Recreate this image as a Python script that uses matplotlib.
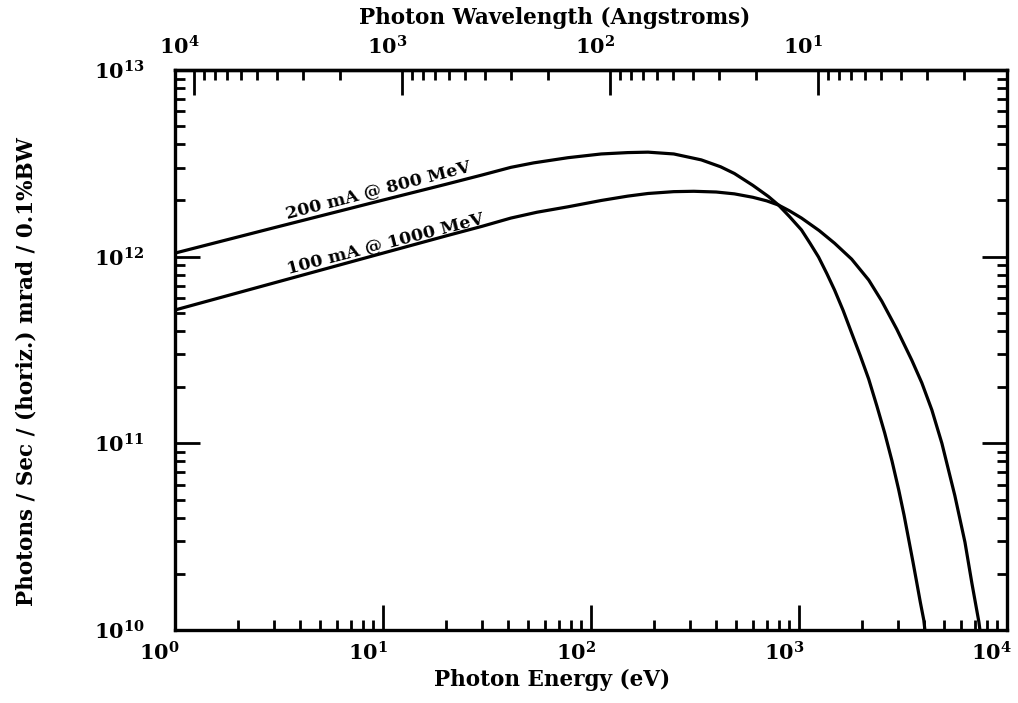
import numpy as np
import matplotlib
matplotlib.use("Agg")
import matplotlib.pyplot as plt
import matplotlib.transforms as mtransforms
from matplotlib.ticker import LogLocator, FixedLocator, FuncFormatter, NullFormatter

# ---- data ----
energy_200mA = [1, 3, 10, 20, 30, 41.2, 53, 77.5, 112, 150, 188, 250, 339, 420,
                489, 600, 713, 797, 900, 1028, 1130, 1242, 1360, 1483, 1630,
                1791, 1970, 2163, 2370, 2583, 2800, 3017, 3200, 3373, 3530,
                3684, 3830, 3981, 4030]
flux_200mA = [1.045e12, 1.43e12, 2.01e12, 2.44e12, 2.74e12, 3.01e12, 3.18e12,
              3.39e12, 3.55e12, 3.61e12, 3.63e12, 3.55e12, 3.30e12, 3.03e12,
              2.79e12, 2.41e12, 2.10e12, 1.89e12, 1.64e12, 1.39e12, 1.18e12,
              9.95e11, 8.13e11, 6.62e11, 5.15e11, 3.90e11, 2.95e11, 2.21e11,
              1.58e11, 1.135e11, 8.04e10, 5.62e10, 4.12e10, 3.03e10, 2.32e10,
              1.79e10, 1.41e10, 1.13e10, 1.0e10]

energy_100mA = [1, 3, 10, 20, 30, 41.2, 55, 77.5, 112, 150, 188, 250, 312, 400,
                489, 600, 700, 797, 900, 1028, 1250, 1483, 1791, 2163, 2500,
                2951, 3485, 3894, 4352, 4864, 5613, 6280, 6780, 7330, 7410]
flux_100mA = [5.18e11, 7.24e11, 1.045e12, 1.29e12, 1.455e12, 1.61e12, 1.73e12,
              1.85e12, 2.00e12, 2.11e12, 2.18e12, 2.23e12, 2.24e12, 2.22e12,
              2.17e12, 2.08e12, 1.99e12, 1.89e12, 1.76e12, 1.61e12, 1.38e12,
              1.18e12, 9.70e11, 7.50e11, 5.78e11, 4.09e11, 2.79e11, 2.11e11,
              1.51e11, 1.0e11, 5.25e10, 2.95e10, 1.78e10, 1.10e10, 1.0e10]

energy_ticks = [1, 10, 100, 1000, 10000]
flux_ticks = [1e10, 1e11, 1e12, 1e13]
wavelength_ticks = [10, 100, 1000, 10000]

curve_labels = ["200 mA @ 800 MeV", "100 mA @ 1000 MeV"]
xlabel = "Photon Energy (eV)"
toplabel = "Photon Wavelength (Angstroms)"
ylabel = "Photons / Sec / (horiz.) mrad / 0.1%BW"
HC = 12398.0  # eV * Angstrom

plt.rcParams['font.family'] = ['DejaVu Serif']
plt.rcParams['font.weight'] = 'bold'
plt.rcParams['mathtext.fontset'] = 'dejavuserif'

W, H = 1018, 703
fig = plt.figure(figsize=(W / 100, H / 100), dpi=100)
L, R, T, B = 175, 1007, 70, 630
ax = fig.add_axes([L / W, 1 - B / H, (R - L) / W, (B - T) / H])

lw = 2.3
for e, f in [(energy_200mA, flux_200mA), (energy_100mA, flux_100mA)]:
    ax.plot(e, f, color='black', lw=lw, solid_joinstyle='round',
            solid_capstyle='butt')
ax.set_xscale('log')
ax.set_yscale('log')
ax.set_xlim(1, 1e4)
ax.set_ylim(1e10, 1e13)

for s in ax.spines.values():
    s.set_linewidth(2.4)

fmt = FuncFormatter(lambda v, p: r'$\mathbf{10^{%d}}$' % round(np.log10(v)))
ax.xaxis.set_major_locator(FixedLocator(energy_ticks))
ax.yaxis.set_major_locator(FixedLocator(flux_ticks))
for axis in (ax.xaxis, ax.yaxis):
    axis.set_minor_locator(LogLocator(base=10, subs=np.arange(2, 10), numticks=20))
    axis.set_major_formatter(fmt)
    axis.set_minor_formatter(NullFormatter())
ax.tick_params(which='both', direction='in', top=False, bottom=True,
               left=True, right=True, width=2.0)
ax.tick_params(which='major', length=18)
ax.tick_params(which='minor', length=7)
ax.tick_params(axis='x', which='major', labelsize=15, pad=8)
ax.tick_params(axis='y', which='major', labelsize=15, pad=22)

sec = ax.secondary_xaxis('top', functions=(lambda e: HC / e, lambda l: HC / l))
sec.xaxis.set_major_locator(FixedLocator(wavelength_ticks))
sec.xaxis.set_minor_locator(LogLocator(base=10, subs=np.arange(2, 10), numticks=20))
sec.xaxis.set_major_formatter(fmt)
sec.xaxis.set_minor_formatter(NullFormatter())
sec.tick_params(which='both', direction='in', width=2.0)
sec.tick_params(which='major', length=18, labelsize=15, pad=8)
sec.tick_params(which='minor', length=7)
sec.spines['top'].set_linewidth(2.4)

# curve labels
ax.text(9.5, 2.28e12, curve_labels[0], rotation=14.5, rotation_mode='anchor',
        ha='center', va='center', fontsize=12.5, fontweight='bold')
ax.text(10.2, 1.18e12, curve_labels[1], rotation=14.5, rotation_mode='anchor',
        ha='center', va='center', fontsize=12.5, fontweight='bold')

fig.text(552 / W, 1 - 680 / H, xlabel, ha='center', va='center',
         fontsize=15.5, fontweight='bold')
fig.text(555 / W, 1 - 18 / H, toplabel, ha='center', va='center',
         fontsize=15.5, fontweight='bold')
fig.text(27 / W, 1 - 372 / H, ylabel, ha='center', va='center', rotation=90,
         fontsize=15.5, fontweight='bold')

# shift x tick labels: right edge slightly right of the tick, as in reference
fig.canvas.draw()
offset = mtransforms.ScaledTranslation(5 / 100, 0, fig.dpi_scale_trans)
for lbl in list(ax.xaxis.get_majorticklabels()) + list(sec.xaxis.get_majorticklabels()):
    lbl.set_horizontalalignment('right')
    lbl.set_transform(lbl.get_transform() + offset)

fig.savefig('out.png', dpi=100)
